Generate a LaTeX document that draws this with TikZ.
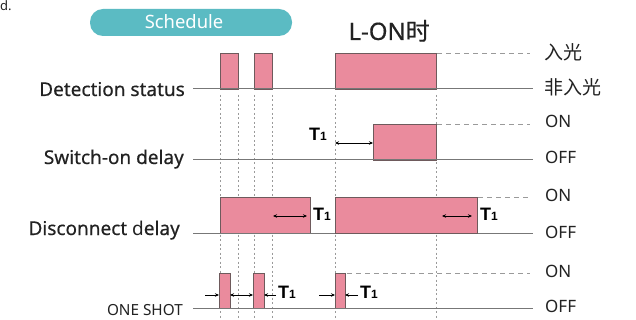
\documentclass[tikz,border=0pt]{standalone}
\usepackage{fontspec}
\setmainfont{Noto Sans}
\newfontfamily\medfont[FakeBold=0.4]{Noto Sans}
\newfontfamily\cjk{Noto Sans CJK SC}
\newfontfamily\cjkmed[FakeBold=0.6]{Noto Sans CJK SC}
\newfontfamily\tfont{Liberation Sans}
\usetikzlibrary{arrows.meta}
\definecolor{pinkfill}{HTML}{EA8B9D}
\definecolor{edgecol}{HTML}{6E5A5C}
\definecolor{linecol}{HTML}{777777}
\definecolor{tealcol}{HTML}{5BBBC3}
\definecolor{dashcol}{HTML}{9A9A9A}
\definecolor{txtcol}{HTML}{222222}
\newcommand{\Tone}{{\tfont\bfseries\fontsize{18}{20}\selectfont T\fontsize{12}{13}\selectfont 1}}
\tikzset{
  sig/.style={line width=1pt, draw=linecol},
  pulse/.style={fill=pinkfill, draw=edgecol, line width=0.8pt},
  refline/.style={draw=dashcol, line width=0.8pt, dash pattern=on 5pt off 4pt},
  vguide/.style={draw=dashcol, line width=0.7pt, dash pattern=on 2pt off 2.5pt},
  tarrow/.style={line width=0.8pt, draw=black, {Stealth[length=4pt,width=3.5pt]}-{Stealth[length=4pt,width=3.5pt]}},
  sarrow/.style={line width=0.8pt, draw=black, -{Stealth[length=4pt,width=3.5pt]}},
  lbl/.style={inner sep=0pt, text=txtcol, font=\medfont\fontsize{19}{21}\selectfont},
  state/.style={inner sep=0pt, text=txtcol, font=\fontsize{17}{19}\selectfont, anchor=base west},
  cjkstate/.style={inner sep=0pt, text=txtcol, font=\cjk\fontsize{19}{21}\selectfont, anchor=base west},
  tlabel/.style={inner sep=0pt, anchor=base west, text=black}
}
\begin{document}
\begin{tikzpicture}[x=1pt,y=-1pt]
\useasboundingbox (0,0) rectangle (636,320);
\fill[white] (0,0) rectangle (636,320);

% top-left fragment
\node[inner sep=0pt, anchor=base west, text=txtcol, font=\bfseries\fontsize{13}{15}\selectfont] (frag) at (0,10.5) {d.};

% Schedule pill
\node[fill=tealcol, rounded corners=13pt, minimum width=202pt, minimum height=27pt, inner sep=0pt] (pill) at (191,22.5) {};
\node[inner sep=0pt, anchor=base, text=white, font=\fontsize{18.4}{20}\selectfont] (sched) at (184,28.5) {Schedule};

% title
\node[inner sep=0pt, anchor=base east, text=txtcol, font=\medfont\fontsize{24}{26}\selectfont] (title) at (430,40) {L-ON{\cjkmed 时}};

% vertical guides
\foreach \gx in {220,238,254,272,335,436}
  \draw[vguide] (\gx,95) -- (\gx,320);

% Row 1: Detection status
\draw[pulse] (220,89) rectangle (238,53);
\draw[pulse] (254,89) rectangle (272,53);
\draw[pulse] (335,89) rectangle (436,53);
\draw[sig] (193,89) -- (533,89);
\draw[refline] (437,53) -- (530,53);
\node[lbl, anchor=base east] (l1) at (185,96) {Detection status};
\node[cjkstate] (in1) at (544,60) {入光};
\node[cjkstate] (off1) at (544,95) {非入光};

% Row 2: Switch-on delay
\draw[pulse] (373,160) rectangle (436,124);
\draw[sig] (193,160) -- (533,160);
\draw[refline] (437,124) -- (530,124);
\coordinate (a2s) at (335,143);
\coordinate (a2e) at (373,143);
\draw[tarrow] (a2s) -- (a2e);
\node[tlabel] (t2) at (309,141) {\Tone};
\node[lbl, anchor=base east] (l2) at (184,164) {Switch-on delay};
\node[state] (on2) at (545,128) {ON};
\node[state] (off2) at (545,164) {OFF};

% Row 3: Disconnect delay
\draw[pulse] (220,233) rectangle (310,197);
\draw[sig] (193,233) -- (533,233);
\node[tlabel] (t3a) at (313,220) {\Tone};
\draw[pulse] (335,233) rectangle (477,197);
\draw[refline] (478,197) -- (530,197);
\coordinate (a3s) at (273,216);
\coordinate (a3e) at (307,216);
\draw[tarrow] (a3s) -- (a3e);
\coordinate (b3s) at (442,216);
\coordinate (b3e) at (472,216);
\draw[tarrow] (b3s) -- (b3e);
\node[tlabel] (t3b) at (480,220) {\Tone};
\node[lbl, anchor=base east] (l3) at (180,235) {Disconnect {\rmfamily d}elay};
\node[state] (on3) at (545,202) {ON};
\node[state] (off3) at (545,238) {OFF};

% Row 4: ONE SHOT
\draw[pulse] (219,308) rectangle (230,273);
\draw[pulse] (253,308) rectangle (264,273);
\draw[pulse] (335,308) rectangle (345,273);
\draw[sig] (193,308) -- (533,308);
\draw[refline] (347,273) -- (530,273);
\coordinate (p1l) at (205,295); \coordinate (p1a) at (219,295);
\coordinate (p1r) at (242,295); \coordinate (p1b) at (230,295);
\coordinate (p2l) at (242,295); \coordinate (p2a) at (253,295);
\coordinate (p2r) at (276,295); \coordinate (p2b) at (264,295);
\coordinate (p3l) at (319,295); \coordinate (p3a) at (335,295);
\coordinate (p3r) at (358,295); \coordinate (p3b) at (345,295);
\draw[sarrow] (p1l) -- (p1a);
\draw[sarrow] (p1r) -- (p1b);
\draw[sarrow] (p2l) -- (p2a);
\draw[sarrow] (p2r) -- (p2b);
\draw[sarrow] (p3l) -- (p3a);
\draw[sarrow] (p3r) -- (p3b);
\node[tlabel] (t4a) at (278,298) {\Tone};
\node[tlabel] (t4b) at (360,298) {\Tone};
\node[inner sep=0pt, text=txtcol, anchor=base east, font=\fontsize{15.3}{17}\selectfont] (l4) at (183,315) {ONE SHOT};
\node[state] (on4) at (545,277) {ON};
\node[state] (off4) at (545,312) {OFF};
\end{tikzpicture}
\end{document}
